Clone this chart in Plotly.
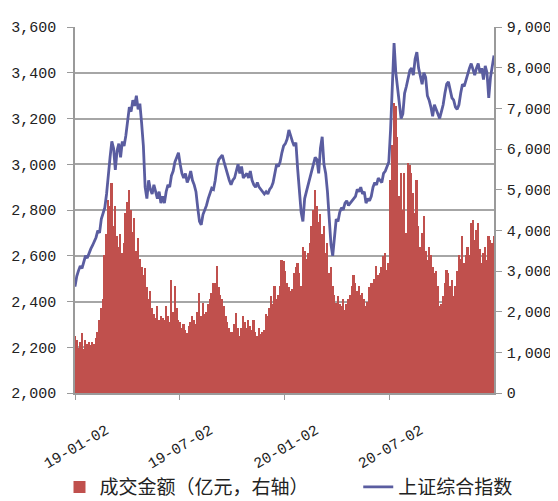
import pandas as pd
import plotly.graph_objects as go

# 上证综合指数 (left axis), 10 readings per month, 2019-01 .. 2020-12
index_2019 = [
    2465, 2510, 2535, 2555, 2545, 2575, 2600, 2590, 2615, 2630,   # Jan
    2645, 2660, 2680, 2710, 2700, 2760, 2790, 2810, 2870, 2960,   # Feb
    3030, 3100, 3070, 2975, 3060, 3090, 3030, 3100, 3080, 3125,   # Mar
    3200, 3250, 3230, 3280, 3255, 3300, 3240, 3265, 3180, 3080,   # Apr
    2900, 2850, 2930, 2890, 2870, 2910, 2880, 2850, 2880, 2830,   # May
    2860, 2830, 2880, 2910, 2900, 2950, 2970, 3010, 3030, 3050,   # Jun
    3000, 2960, 2940, 2960, 2920, 2940, 2970, 2930, 2910, 2880,   # Jul
    2810, 2750, 2735, 2780, 2800, 2820, 2850, 2870, 2895, 2890,   # Aug
    2930, 2990, 3020, 3030, 3040, 3010, 2980, 2950, 2930, 2910,   # Sep
    2930, 2940, 2975, 3000, 2960, 2990, 2940, 2950, 2960, 2940,   # Oct
    2970, 2930, 2910, 2900, 2920, 2900, 2890, 2880, 2870, 2880,   # Nov
    2870, 2890, 2900, 2920, 2970, 3000, 2990, 3010, 3050, 3080,   # Dec
]
index_2020 = [
    3090, 3110, 3150, 3120, 3100, 3080, 3095, 2980, 2900, 2790,   # Jan
    2750, 2850, 2880, 2910, 2930, 2960, 3000, 3030, 3020, 2960,   # Feb
    3070, 3120, 3000, 2960, 2880, 2760, 2650, 2600, 2690, 2760,   # Mar
    2750, 2790, 2810, 2800, 2830, 2840, 2820, 2830, 2840, 2850,   # Apr
    2860, 2890, 2880, 2900, 2870, 2880, 2830, 2850, 2840, 2860,   # May
    2900, 2920, 2910, 2940, 2930, 2920, 2960, 2970, 2990, 3010,   # Jun
    3150, 3330, 3530, 3400, 3330, 3270, 3200, 3220, 3310, 3340,   # Jul
    3380, 3410, 3420, 3390, 3460, 3490, 3420, 3380, 3350, 3400,   # Aug
    3380, 3300, 3280, 3250, 3210, 3260, 3240, 3220, 3200, 3230,   # Sep
    3260, 3310, 3350, 3360, 3330, 3290, 3280, 3250, 3240, 3260,   # Oct
    3310, 3350, 3340, 3370, 3400, 3420, 3440, 3410, 3390, 3420,   # Nov
    3440, 3400, 3420, 3370, 3430, 3400, 3290, 3380, 3420, 3475,   # Dec
]

# 成交金额（亿元） (right axis)
turnover_2019 = [
    1390, 1310, 1100, 1250, 1480, 1070, 1300, 1200, 1250, 1180,   # Jan
    1250, 1200, 1350, 1500, 1800, 2100, 2300, 3400, 3900, 4750,   # Feb
    4600, 5170, 4100, 4590, 3850, 3600, 3900, 3440, 3700, 4430,   # Mar
    4700, 5000, 4500, 3950, 4300, 3500, 3800, 3300, 3100, 2900,   # Apr
    3075, 2600, 2300, 2500, 2100, 1950, 1850, 2130, 1800, 1900,   # May
    1850, 1800, 2130, 1900, 1750, 2790, 2000, 2620, 2100, 1800,   # Jun
    1750, 1600, 1700, 1550, 1480, 1650, 1750, 1900, 1800, 1700,   # Jul
    2000, 2460, 1900, 2210, 1950, 2000, 2200, 2300, 2450, 2700,   # Aug
    2700, 3120, 2600, 2400, 2300, 2130, 1900, 1750, 1600, 1500,   # Sep
    1500, 1700, 1970, 1600, 1390, 1600, 1890, 1750, 1600, 1800,   # Oct
    1650, 1550, 1800, 1500, 1400, 1600, 1450, 1500, 1550, 1950,   # Nov
    1900, 2100, 2380, 2200, 2620, 2300, 2400, 2620, 3280, 3250,   # Dec
]
turnover_2020 = [
    3000, 2700, 2600, 2500, 2550, 2950, 3100, 3200, 2950, 2620,   # Jan
    3600, 3500, 3300, 3440, 3700, 4100, 4500, 5000, 4600, 4200,   # Feb
    4400, 3900, 4100, 3440, 3700, 2950, 3100, 2620, 2400, 2210,   # Mar
    2380, 2200, 2130, 2300, 2050, 2200, 2300, 2400, 2620, 2900,   # Apr
    2700, 2500, 2620, 2400, 2450, 2300, 2130, 2250, 2600, 2700,   # May
    2700, 2800, 3115, 2900, 2950, 3100, 3360, 3440, 3030, 3200,   # Jun
    5250, 6100, 7130, 7050, 6300, 4840, 5400, 4500, 5400, 3940,   # Jul
    5660, 5600, 5410, 4920, 4430, 5250, 4100, 3600, 3940, 4350,   # Aug
    3500, 3280, 3600, 3400, 3100, 2950, 3000, 2620, 2130, 2200,   # Sep
    2380, 2700, 3030, 2950, 2620, 2790, 2380, 2620, 3000, 3400,   # Oct
    3300, 3850, 3200, 3400, 3600, 3400, 4180, 4260, 3770, 4000,   # Nov
    4180, 3530, 3200, 3440, 3600, 3280, 3850, 3770, 3700, 3850,   # Dec
]

index_vals = index_2019 + index_2020
turnover_vals = turnover_2019 + turnover_2020

start_date = "2019-01-02"
end_date = "2020-12-31"
dates = pd.date_range(start_date, end_date, periods=len(index_vals))

x_ticks = ["2019-01-02", "2019-07-02", "2020-01-02", "2020-07-02"]

name_turnover = "成交金额（亿元，右轴）"
name_index = "上证综合指数"

tick_font = dict(family="Liberation Mono", size=15, color="#222222")
xtick_font = dict(family="Liberation Mono", size=15, color="#222222")
legend_font = dict(family="Noto Sans CJK SC", size=19, color="#222222")
axis_gray = "#9A9A9A"

fig = go.Figure()
fig.add_trace(go.Bar(
    x=dates, y=turnover_vals, name=name_turnover, yaxis="y", legend="legend",
    marker=dict(color="#C0504D", line=dict(width=0)),
))
fig.add_trace(go.Scatter(
    x=dates, y=index_vals, name=name_index, yaxis="y2", mode="lines",
    legend="legend2",
    line=dict(color="#5A5DA0", width=2.8),
))

fig.update_layout(
    width=550, height=493,
    margin=dict(l=67, r=64, t=19, b=108, autoexpand=False),
    paper_bgcolor="white", plot_bgcolor="white",
    bargap=0,
    showlegend=True,
    legend=dict(
        orientation="h", x=-0.037, xanchor="left", y=-0.257, yanchor="middle",
        font=legend_font, bgcolor="rgba(0,0,0,0)",
    ),
    legend2=dict(
        orientation="h", x=0.676, xanchor="left", y=-0.257, yanchor="middle",
        font=legend_font, bgcolor="rgba(0,0,0,0)",
    ),
    xaxis=dict(
        type="date", range=[start_date, end_date], automargin=False,
        tickvals=x_ticks, tickformat="%y-%m-%d", tickangle=-30,
        ticklabelshift=31, ticklabelstandoff=16,
        ticks="outside", ticklen=5, tickcolor=axis_gray,
        showline=True, linecolor=axis_gray, linewidth=1.5,
        showgrid=False, tickfont=xtick_font,
    ),
    yaxis=dict(
        side="right", range=[0, 9000], dtick=1000, tickformat=",", automargin=False,
        ticks="outside", ticklen=6, tickcolor=axis_gray, ticklabelstandoff=2,
        showline=True, linecolor=axis_gray, linewidth=1.5,
        showgrid=False, zeroline=False, tickfont=tick_font,
    ),
    yaxis2=dict(
        overlaying="y", side="left", range=[2000, 3600], dtick=200, tickformat=",",
        automargin=False, ticklabelstandoff=8,
        ticks="outside", ticklen=6, tickcolor=axis_gray,
        showline=True, linecolor=axis_gray, linewidth=1.5,
        showgrid=True, gridcolor="#A6A6A6", gridwidth=1.5,
        zeroline=False, tickfont=tick_font,
    ),
)

fig.write_html("out.html")
